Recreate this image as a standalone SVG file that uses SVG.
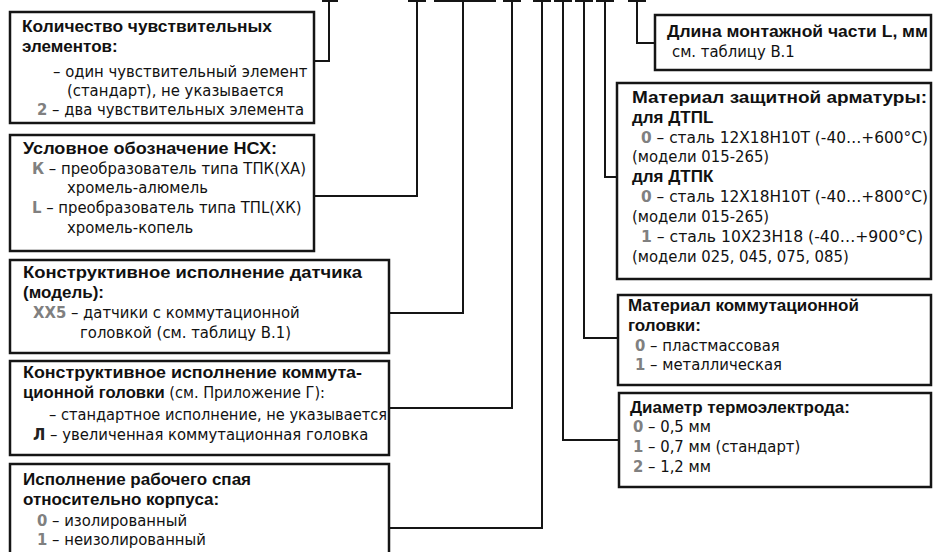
<svg xmlns="http://www.w3.org/2000/svg" width="933" height="552" viewBox="0 0 933 552">
<style>
.box{fill:#fff;stroke:#151515;stroke-width:2.5}
.ln{fill:none;stroke:#151515;stroke-width:2}
.h{font-family:"Liberation Sans",Arial,sans-serif;font-weight:bold;font-size:17px;fill:#111}
.t{font-family:"DejaVu Sans Condensed","Liberation Sans Narrow",sans-serif;font-stretch:condensed;font-size:16.5px;fill:#111}
.c{fill:#808080;font-weight:bold}
.b{font-family:"Liberation Sans",Arial,sans-serif;font-weight:bold;font-stretch:normal;font-size:17px}
</style>
<rect width="933" height="552" fill="#fff"/>
<g id="connectors">
<path class="ln" d="M322,1H338M408,1H426M434,1H496M503,1H521M533,1H551M554,1H572M575,1H593M596,1H614M628,1H646"/>
<path class="ln" d="M329,0V61H314"/>
<path class="ln" d="M417,0V196H314"/>
<path class="ln" d="M463,0V313H389"/>
<path class="ln" d="M512,0V408H389"/>
<path class="ln" d="M542,0V528H389"/>
<path class="ln" d="M563,0V440H619"/>
<path class="ln" d="M584,0V338H618"/>
<path class="ln" d="M605,0V177H617"/>
<path class="ln" d="M637,0V43H655"/>
</g>
<g id="n1">
<rect class="box" x="10" y="12" width="304" height="111"/>
<text class="h" x="22" y="32" textLength="250" lengthAdjust="spacingAndGlyphs">Количество чувствительных</text>
<text class="h" x="22" y="52">элементов:</text>
<text class="t" x="53" y="77">– один чувствительный элемент</text>
<text class="t" x="67" y="96">(стандарт), не указывается</text>
<text class="t" x="37" y="115"><tspan class="c">2</tspan> – два чувствительных элемента</text>
</g>
<g id="n2">
<rect class="box" x="10" y="135" width="304" height="116"/>
<text class="h" x="23" y="154" textLength="254" lengthAdjust="spacingAndGlyphs">Условное обозначение НСХ:</text>
<text class="t" x="32" y="174"><tspan class="c">К</tspan> – преобразователь типа ТПК(ХА)</text>
<text class="t" x="67" y="193">хромель-алюмель</text>
<text class="t" x="32" y="213"><tspan class="c">L</tspan> – преобразователь типа ТПL(ХК)</text>
<text class="t" x="67" y="233">хромель-копель</text>
</g>
<g id="n3">
<rect class="box" x="10" y="260" width="379" height="93"/>
<text class="h" x="23" y="278" textLength="339" lengthAdjust="spacingAndGlyphs">Конструктивное исполнение датчика</text>
<text class="h" x="23" y="298">(модель):</text>
<text class="t" x="33" y="318"><tspan class="c">ХХ5</tspan> – датчики с коммутационной</text>
<text class="t" x="80" y="338">головкой (см. таблицу В.1)</text>
</g>
<g id="n4">
<rect class="box" x="10" y="361" width="379" height="94"/>
<text class="h" x="23" y="378" textLength="339" lengthAdjust="spacingAndGlyphs">Конструктивное исполнение коммута-</text>
<text class="t" x="23" y="398" textLength="302" lengthAdjust="spacingAndGlyphs"><tspan class="b">ционной головки</tspan> (см. Приложение Г):</text>
<text class="t" x="49" y="420" textLength="338" lengthAdjust="spacingAndGlyphs">– стандартное исполнение, не указывается</text>
<text class="t" x="33" y="440"><tspan font-weight="bold" fill="#222">Л</tspan> – увеличенная коммутационная головка</text>
</g>
<g id="n5">
<rect class="box" x="10" y="464" width="379" height="100"/>
<text class="h" x="23" y="485">Исполнение рабочего спая</text>
<text class="h" x="23" y="505">относительно корпуса:</text>
<text class="t" x="37" y="526"><tspan class="c">0</tspan> – изолированный</text>
<text class="t" x="37" y="545"><tspan class="c">1</tspan> – неизолированный</text>
</g>
<g id="n6">
<rect class="box" x="655" y="15" width="276" height="55"/>
<text class="h" x="667" y="37" textLength="261" lengthAdjust="spacingAndGlyphs">Длина монтажной части L, мм</text>
<text class="t" x="672" y="57">см. таблицу В.1</text>
</g>
<g id="n7">
<rect class="box" x="617" y="83" width="314" height="196"/>
<text class="h" x="632" y="103" textLength="295" lengthAdjust="spacingAndGlyphs">Материал защитной арматуры:</text>
<text class="h" x="632" y="123">для ДТПL</text>
<text class="t" x="641" y="143" textLength="287" lengthAdjust="spacingAndGlyphs"><tspan class="c">0</tspan> – сталь 12Х18Н10Т (-40…+600°С)</text>
<text class="t" x="632" y="162">(модели 015-265)</text>
<text class="h" x="632" y="182">для ДТПК</text>
<text class="t" x="641" y="202" textLength="287" lengthAdjust="spacingAndGlyphs"><tspan class="c">0</tspan> – сталь 12Х18Н10Т (-40…+800°С)</text>
<text class="t" x="632" y="222">(модели 015-265)</text>
<text class="t" x="641" y="242" textLength="282" lengthAdjust="spacingAndGlyphs"><tspan class="c">1</tspan> – сталь 10Х23Н18 (-40…+900°С)</text>
<text class="t" x="632" y="262">(модели 025, 045, 075, 085)</text>
</g>
<g id="n8">
<rect class="box" x="618" y="295" width="313" height="90"/>
<text class="h" x="628" y="311">Материал коммутационной</text>
<text class="h" x="628" y="331">головки:</text>
<text class="t" x="635" y="351">
<tspan class="c">0</tspan> – пластмассовая</text>
<text class="t" x="635" y="370"><tspan class="c">1</tspan> – металлическая</text>
</g>
<g id="n9">
<rect class="box" x="619" y="393" width="312" height="94"/>
<text class="h" x="630" y="413">Диаметр термоэлектрода:</text>
<text class="t" x="633" y="432"><tspan class="c">0</tspan> – 0,5 мм</text>
<text class="t" x="633" y="452"><tspan class="c">1</tspan> – 0,7 мм (стандарт)</text>
<text class="t" x="633" y="472"><tspan class="c">2</tspan> – 1,2 мм</text>
</g>
</svg>
